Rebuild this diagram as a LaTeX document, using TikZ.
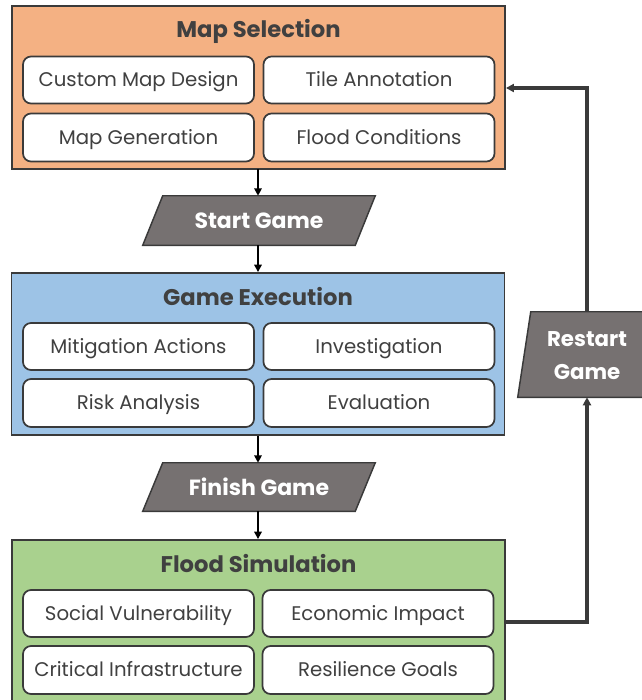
\documentclass[tikz,border=0pt]{standalone}
\usepackage{fontspec}
\setmainfont{Poppins}
\usetikzlibrary{arrows.meta,calc}
\definecolor{orangef}{HTML}{F4B183}
\definecolor{bluef}{HTML}{9DC3E6}
\definecolor{greenf}{HTML}{A9D18E}
\definecolor{grayf}{HTML}{767171}
\definecolor{edgec}{HTML}{3A3A3A}
\definecolor{txtc}{HTML}{404040}
\begin{document}
\begin{tikzpicture}[x=0.75pt,y=-0.75pt,
  stage/.style={draw=edgec, line width=1.4pt, minimum width=493*0.75pt, inner sep=0pt},
  item/.style={draw=edgec, fill=white, line width=1.3pt, rounded corners=6pt,
    minimum width=231*0.75pt, minimum height=47*0.75pt, inner sep=0pt,
    text=txtc, font=\fontsize{14.8}{16}\selectfont, text height=10.4pt, text depth=0pt},
  ttl/.style={text=txtc, font=\fontsize{17}{18}\selectfont\bfseries, inner sep=0pt,
    text height=11.9pt, text depth=0pt},
  parbox/.style={minimum width=212*0.75pt, inner sep=0pt},
  partxt/.style={inner sep=0pt, text=white, font=\fontsize{16.5}{18}\selectfont\bfseries,
    text height=11.5pt, text depth=0pt},
  parfill/.style={fill=grayf, draw=edgec, line width=1.1pt},
  flow/.style={black, line width=1.4pt, -{Triangle[length=5.5pt,width=5.5pt]}},
  back/.style={edgec, line width=2.3pt, -{Triangle[length=6pt,width=6pt]}}
]
\useasboundingbox (0,0) rectangle (642,700);
\clip (0,0) rectangle (642,700);
\fill[white] (0,0) rectangle (642,700);

% Map Selection
\node[stage, fill=orangef, minimum height=163*0.75pt] (ms) at (258.5,87.5) {};
\node[ttl] (mst) at (258.5,30) {Map Selection};
\node[item] (ms1) at (138.5,80) {Custom Map Design};
\node[item] (ms2) at (379,80) {Tile Annotation};
\node[item, minimum height=48*0.75pt] (ms3) at (138.5,137.5) {Map Generation};
\node[item, minimum height=48*0.75pt] (ms4) at (379,137.5) {Flood Conditions};

% Start Game
\node[parbox, minimum height=49*0.75pt] (sg) at (259,220.5) {};
\filldraw[parfill] ($(sg.north west)+(10,0)$) -- ($(sg.north east)+(10,0)$) -- ($(sg.south east)+(-10,0)$) -- ($(sg.south west)+(-10,0)$) -- cycle;
\node[partxt] (sgt) at (259,221) {Start Game};

% Game Execution
\node[stage, fill=bluef, minimum height=162*0.75pt] (ge) at (258,354) {};
\node[ttl] (get) at (258,298) {Game Execution};
\node[item] (ge1) at (138.5,346.5) {Mitigation Actions};
\node[item] (ge2) at (379,346.5) {Investigation};
\node[item, minimum height=48*0.75pt] (ge3) at (138.5,403) {Risk Analysis};
\node[item, minimum height=48*0.75pt] (ge4) at (379,403) {Evaluation};

% Finish Game
\node[parbox, minimum height=48*0.75pt] (fg) at (259,487) {};
\filldraw[parfill] ($(fg.north west)+(10,0)$) -- ($(fg.north east)+(10,0)$) -- ($(fg.south east)+(-10,0)$) -- ($(fg.south west)+(-10,0)$) -- cycle;
\node[partxt] (fgt) at (259,488) {Finish Game};

% Flood Simulation
\node[stage, fill=greenf, minimum height=164*0.75pt] (fs) at (258.5,622) {};
\node[ttl] (fst) at (258.5,565) {Flood Simulation};
\node[item] (fs1) at (138.5,613.5) {Social Vulnerability};
\node[item] (fs2) at (378,613.5) {Economic Impact};
\node[item, minimum height=48*0.75pt] (fs3) at (138.5,670) {Critical Infrastructure};
\node[item, minimum height=48*0.75pt] (fs4) at (378,670) {Resilience Goals};

% Restart Game
\node[parbox, minimum width=125*0.75pt, minimum height=85*0.75pt] (rg) at (587,354.5) {};
\filldraw[parfill] ($(rg.north west)+(6.5,0)$) -- ($(rg.north east)+(6.5,0)$) -- ($(rg.south east)+(-6.5,0)$) -- ($(rg.south west)+(-6.5,0)$) -- cycle;
\node[partxt, font=\fontsize{16}{18}\selectfont\bfseries, text height=11.2pt] (rgt1) at (587,339) {Restart};
\node[partxt, font=\fontsize{16}{18}\selectfont\bfseries, text height=11.2pt] (rgt2) at (587,372) {Game};

% connectors
\draw[flow] (258,169) -- (sg.north -| 258,0);
\draw[flow] (sg.south -| 258,0) -- (ge.north -| 258,0);
\draw[flow] (ge.south -| 258,0) -- (fg.north -| 258,0);
\draw[flow] (fg.south -| 258,0) -- (fs.north -| 258,0);
\draw[back] (fs.east |- 0,622) -| (rg.south);
\draw[back] (rg.north) |- (ms.east |- 0,88);
\end{tikzpicture}
\end{document}
